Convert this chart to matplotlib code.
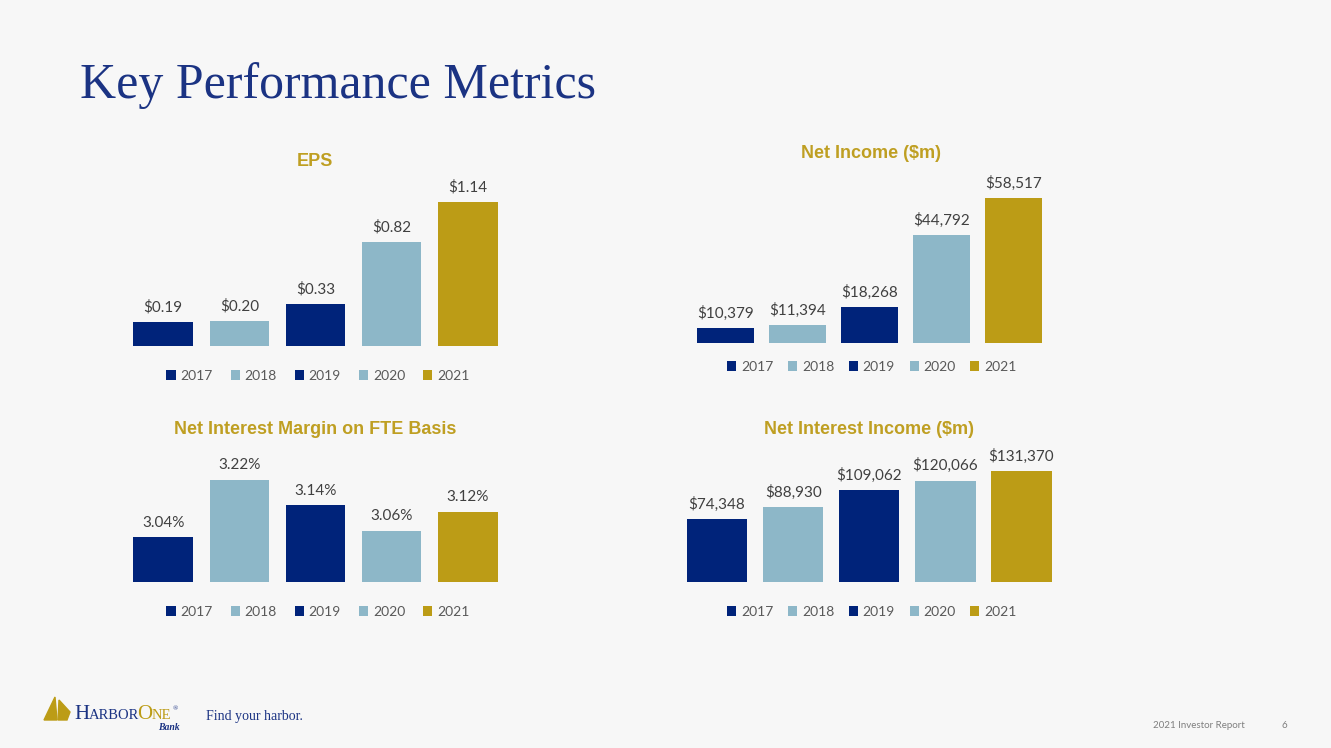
import numpy as np
import matplotlib
matplotlib.use("Agg")
import matplotlib.pyplot as plt
from matplotlib.patches import Polygon

W, H = 1331, 748

years = ["2017", "2018", "2019", "2020", "2021"]
eps = [0.19, 0.20, 0.33, 0.82, 1.14]
net_income = [10379, 11394, 18268, 44792, 58517]
nim = [3.04, 3.22, 3.14, 3.06, 3.12]
nii = [74348, 88930, 109062, 120066, 131370]

eps_labels = ["$0.19", "$0.20", "$0.33", "$0.82", "$1.14"]
ni_labels = ["$10,379", "$11,394", "$18,268", "$44,792", "$58,517"]
nim_labels = ["3.04%", "3.22%", "3.14%", "3.06%", "3.12%"]
nii_labels = ["$74,348", "$88,930", "$109,062", "$120,066", "$131,370"]

NAVY = "#00237a"
LIGHT = "#8db7c8"
GOLD = "#bc9c16"
bar_colors = [NAVY, LIGHT, NAVY, LIGHT, GOLD]
TITLE_BLUE = "#1b3383"
TITLE_GOLD = "#bf9f22"

plt.rcParams["font.family"] = ["Lato", "DejaVu Sans"]

fig = plt.figure(figsize=(W / 100, H / 100), dpi=100)
fig.patch.set_facecolor("#f7f7f7")


def fx(x):
    return x / W


def fy(y):
    return 1 - y / H


def make_chart(title, vals, labels, left, right, base, k, ylim, width,
               title_xy, leg_xy, colspace):
    y0, y1 = ylim
    h = (y1 - y0) * k
    ax = fig.add_axes([fx(left), fy(base), (right - left) / W, h / H])
    ax.set_xlim(-0.5, 4.5)
    ax.set_ylim(y0, y1)
    x = np.arange(len(vals))
    bars = ax.bar(x, np.array(vals) - y0, bottom=y0, width=width,
                  color=bar_colors)
    for xi, v, lab in zip(x, vals, labels):
        ax.annotate(lab, (xi, v), xytext=(0, 7.5), textcoords="offset points",
                    ha="center", va="baseline", fontsize=11,
                    color="#404040", annotation_clip=False)
    ax.axis("off")
    fig.text(fx(title_xy[0]), fy(title_xy[1]), title, ha="center",
             va="baseline", fontsize=13, fontweight="bold",
             color=TITLE_GOLD, family="Liberation Sans")
    ax.legend(bars, years, loc="center", ncol=5, frameon=False,
              bbox_to_anchor=(fx(leg_xy[0]), fy(leg_xy[1])),
              bbox_transform=fig.transFigure, fontsize=10,
              labelcolor="#595959", handlelength=0.65, handleheight=0.65,
              handletextpad=0.35, columnspacing=colspace,
              borderpad=0, borderaxespad=0)
    return ax


make_chart("EPS", eps, eps_labels, 125, 506, 345.7, 126.0, (0, 1.2), 0.78,
           (315, 166.5), (318, 376), 1.3)
make_chart("Net Income ($m)", net_income, ni_labels, 689.5, 1049.5, 342.7,
           0.0027006, (5000, 70000), 0.79, (871, 158), (872, 367), 1.05)
make_chart("Net Interest Margin on FTE Basis", nim, nim_labels, 125, 506,
           581.7, 318.3, (2.9, 3.3), 0.78, (315, 434), (318, 612), 1.3)
make_chart("Net Interest Income ($m)", nii, nii_labels, 679, 1059.5, 582.3,
           0.000847, (0, 140000), 0.795, (869, 434), (872, 612), 1.05)

# page title
fig.text(fx(80), fy(98), "Key Performance Metrics", fontsize=36,
         family="Liberation Serif", color=TITLE_BLUE, va="baseline")

# logo
sail1 = Polygon([(fx(44), fy(720)), (fx(55), fy(697)), (fx(57), fy(720))],
                closed=True, color=GOLD, transform=fig.transFigure)
sail2 = Polygon([(fx(58), fy(720)), (fx(59), fy(700)), (fx(70), fy(712)),
                 (fx(67), fy(720))],
                closed=True, color=GOLD, transform=fig.transFigure)
fig.patches.extend([sail1, sail2])
fig.text(fx(74), fy(719), "H", fontsize=15, family="Liberation Serif",
         color=TITLE_BLUE, va="baseline")
fig.text(fx(89), fy(719), "ARBOR", fontsize=10.5, family="Liberation Serif",
         color=TITLE_BLUE, va="baseline")
fig.text(fx(137), fy(719), "O", fontsize=15, family="Liberation Serif",
         color=GOLD, va="baseline")
fig.text(fx(152), fy(719), "NE", fontsize=10.5, family="Liberation Serif",
         color=GOLD, va="baseline")
fig.text(fx(173), fy(710), "®", fontsize=5, family="Liberation Serif",
         color=TITLE_BLUE, va="baseline")
fig.text(fx(158), fy(730), "Bank", fontsize=7, family="Liberation Serif",
         style="italic", fontweight="bold", color=TITLE_BLUE, va="baseline")
fig.text(fx(206), fy(720), "Find your harbor.", fontsize=10,
         family="Liberation Serif", color=TITLE_BLUE, va="baseline")

# footer
fig.text(fx(1153), fy(728), "2021 Investor Report", fontsize=7,
         color="#7f7f7f", va="baseline")
fig.text(fx(1282), fy(728), "6", fontsize=7, color="#7f7f7f",
         va="baseline")

fig.savefig("out.png", dpi=100, facecolor=fig.get_facecolor())
